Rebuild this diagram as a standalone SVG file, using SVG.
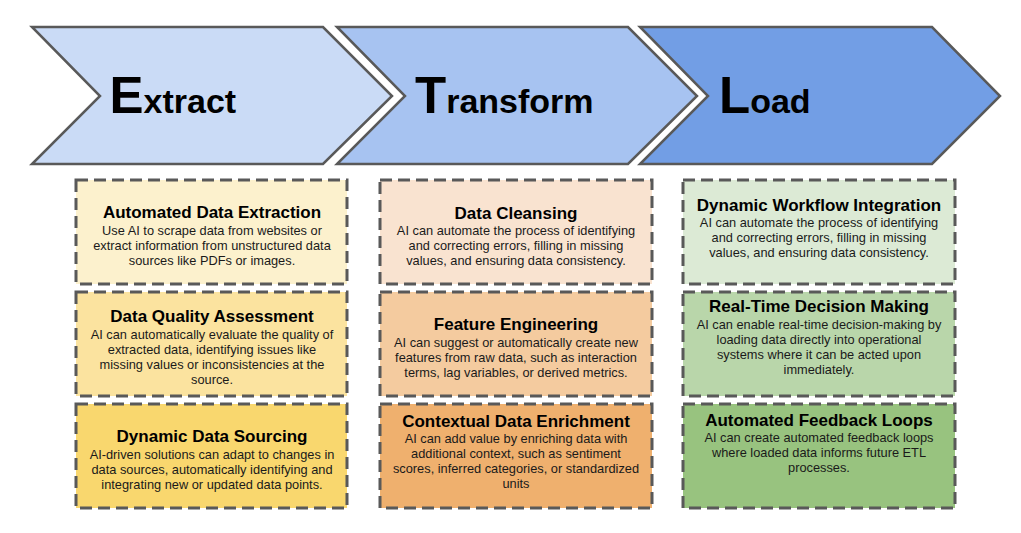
<svg xmlns="http://www.w3.org/2000/svg" width="1021" height="533" viewBox="0 0 1021 533">
  <style>
    .chev { stroke: #595959; stroke-width: 2.5; stroke-linejoin: miter; }
    .big { font-family: "Liberation Sans", Arial, sans-serif; font-weight: bold; fill: #000; }
    .box { stroke: #595959; stroke-width: 3; stroke-dasharray: 12 6; }
    .title { font-family: "Liberation Sans", Arial, sans-serif; font-weight: bold; font-size: 17px; fill: #000; text-anchor: middle; }
    .body { font-family: "Liberation Sans", Arial, sans-serif; font-size: 12.8px; fill: #1a1a1a; text-anchor: middle; }
  </style>
  <rect width="1021" height="533" fill="#ffffff"/>

  <!-- stage chevrons -->
  <g id="stage-extract">
    <polygon class="chev" fill="#cadbf6" points="32,27 323,27 392,96 323,164 32,164 100,96"/>
    <text class="big" x="109.5" y="113"><tspan font-size="51">E</tspan><tspan font-size="34">xtract</tspan></text>
  </g>
  <g id="stage-transform">
    <polygon class="chev" fill="#a7c3f1" points="337,27 628,27 697,96 628,164 337,164 405,96"/>
    <text class="big" x="415" y="113"><tspan font-size="51">T</tspan><tspan font-size="34">ransform</tspan></text>
  </g>
  <g id="stage-load">
    <polygon class="chev" fill="#729ee5" points="640,27 932,27 1000,96 932,164 640,164 708,96"/>
    <text class="big" x="719" y="113"><tspan font-size="51">L</tspan><tspan font-size="34">oad</tspan></text>
  </g>

  <!-- Extract column -->
  <g id="automated-data-extraction">
    <rect class="box" x="76" y="180" width="271" height="104" fill="#fcf1cd"/>
    <text class="title" x="212" y="218">Automated Data Extraction</text>
    <text class="body" x="212" y="234.5">Use AI to scrape data from websites or</text>
    <text class="body" x="212" y="249.5">extract information from unstructured data</text>
    <text class="body" x="212" y="264.5">sources like PDFs or images.</text>
  </g>
  <g id="data-quality-assessment">
    <rect class="box" x="76" y="292" width="271" height="104" fill="#fbe39f"/>
    <text class="title" x="212" y="322">Data Quality Assessment</text>
    <text class="body" x="212" y="338.5">AI can automatically evaluate the quality of</text>
    <text class="body" x="212" y="353.5">extracted data, identifying issues like</text>
    <text class="body" x="212" y="368.5">missing values or inconsistencies at the</text>
    <text class="body" x="212" y="383.5">source.</text>
  </g>
  <g id="dynamic-data-sourcing">
    <rect class="box" x="76" y="404" width="271" height="104" fill="#f9d76e"/>
    <text class="title" x="212" y="442">Dynamic Data Sourcing</text>
    <text class="body" x="212" y="458.5">AI-driven solutions can adapt to changes in</text>
    <text class="body" x="212" y="473.5">data sources, automatically identifying and</text>
    <text class="body" x="212" y="488.5">integrating new or updated data points.</text>
  </g>

  <!-- Transform column -->
  <g id="data-cleansing">
    <rect class="box" x="380" y="180" width="272" height="104" fill="#f9e3d0"/>
    <text class="title" x="516" y="218.5">Data Cleansing</text>
    <text class="body" x="516" y="235">AI can automate the process of identifying</text>
    <text class="body" x="516" y="250">and correcting errors, filling in missing</text>
    <text class="body" x="516" y="265">values, and ensuring data consistency.</text>
  </g>
  <g id="feature-engineering">
    <rect class="box" x="380" y="292" width="272" height="104" fill="#f4cb9f"/>
    <text class="title" x="516" y="330">Feature Engineering</text>
    <text class="body" x="516" y="346.5">AI can suggest or automatically create new</text>
    <text class="body" x="516" y="361.5">features from raw data, such as interaction</text>
    <text class="body" x="516" y="376.5">terms, lag variables, or derived metrics.</text>
  </g>
  <g id="contextual-data-enrichment">
    <rect class="box" x="380" y="404" width="272" height="104" fill="#efb06e"/>
    <text class="title" x="516" y="427">Contextual Data Enrichment</text>
    <text class="body" x="516" y="443">AI can add value by enriching data with</text>
    <text class="body" x="516" y="458">additional context, such as sentiment</text>
    <text class="body" x="516" y="473">scores, inferred categories, or standardized</text>
    <text class="body" x="516" y="488">units</text>
  </g>

  <!-- Load column -->
  <g id="dynamic-workflow-integration">
    <rect class="box" x="683" y="180" width="272" height="104" fill="#dcead5"/>
    <text class="title" x="819" y="210.5">Dynamic Workflow Integration</text>
    <text class="body" x="819" y="227">AI can automate the process of identifying</text>
    <text class="body" x="819" y="242">and correcting errors, filling in missing</text>
    <text class="body" x="819" y="257">values, and ensuring data consistency.</text>
  </g>
  <g id="real-time-decision-making">
    <rect class="box" x="683" y="292" width="272" height="104" fill="#b9d6aa"/>
    <text class="title" x="819" y="312">Real-Time Decision Making</text>
    <text class="body" x="819" y="328.5">AI can enable real-time decision-making by</text>
    <text class="body" x="819" y="343.5">loading data directly into operational</text>
    <text class="body" x="819" y="358.5">systems where it can be acted upon</text>
    <text class="body" x="819" y="373.5">immediately.</text>
  </g>
  <g id="automated-feedback-loops">
    <rect class="box" x="683" y="404" width="272" height="104" fill="#98c37f"/>
    <text class="title" x="819" y="425.5">Automated Feedback Loops</text>
    <text class="body" x="819" y="442">AI can create automated feedback loops</text>
    <text class="body" x="819" y="457">where loaded data informs future ETL</text>
    <text class="body" x="819" y="472">processes.</text>
  </g>

  <!-- no connectors: stages are linked by the chevron shapes themselves -->
  <g id="connectors"/>
</svg>
